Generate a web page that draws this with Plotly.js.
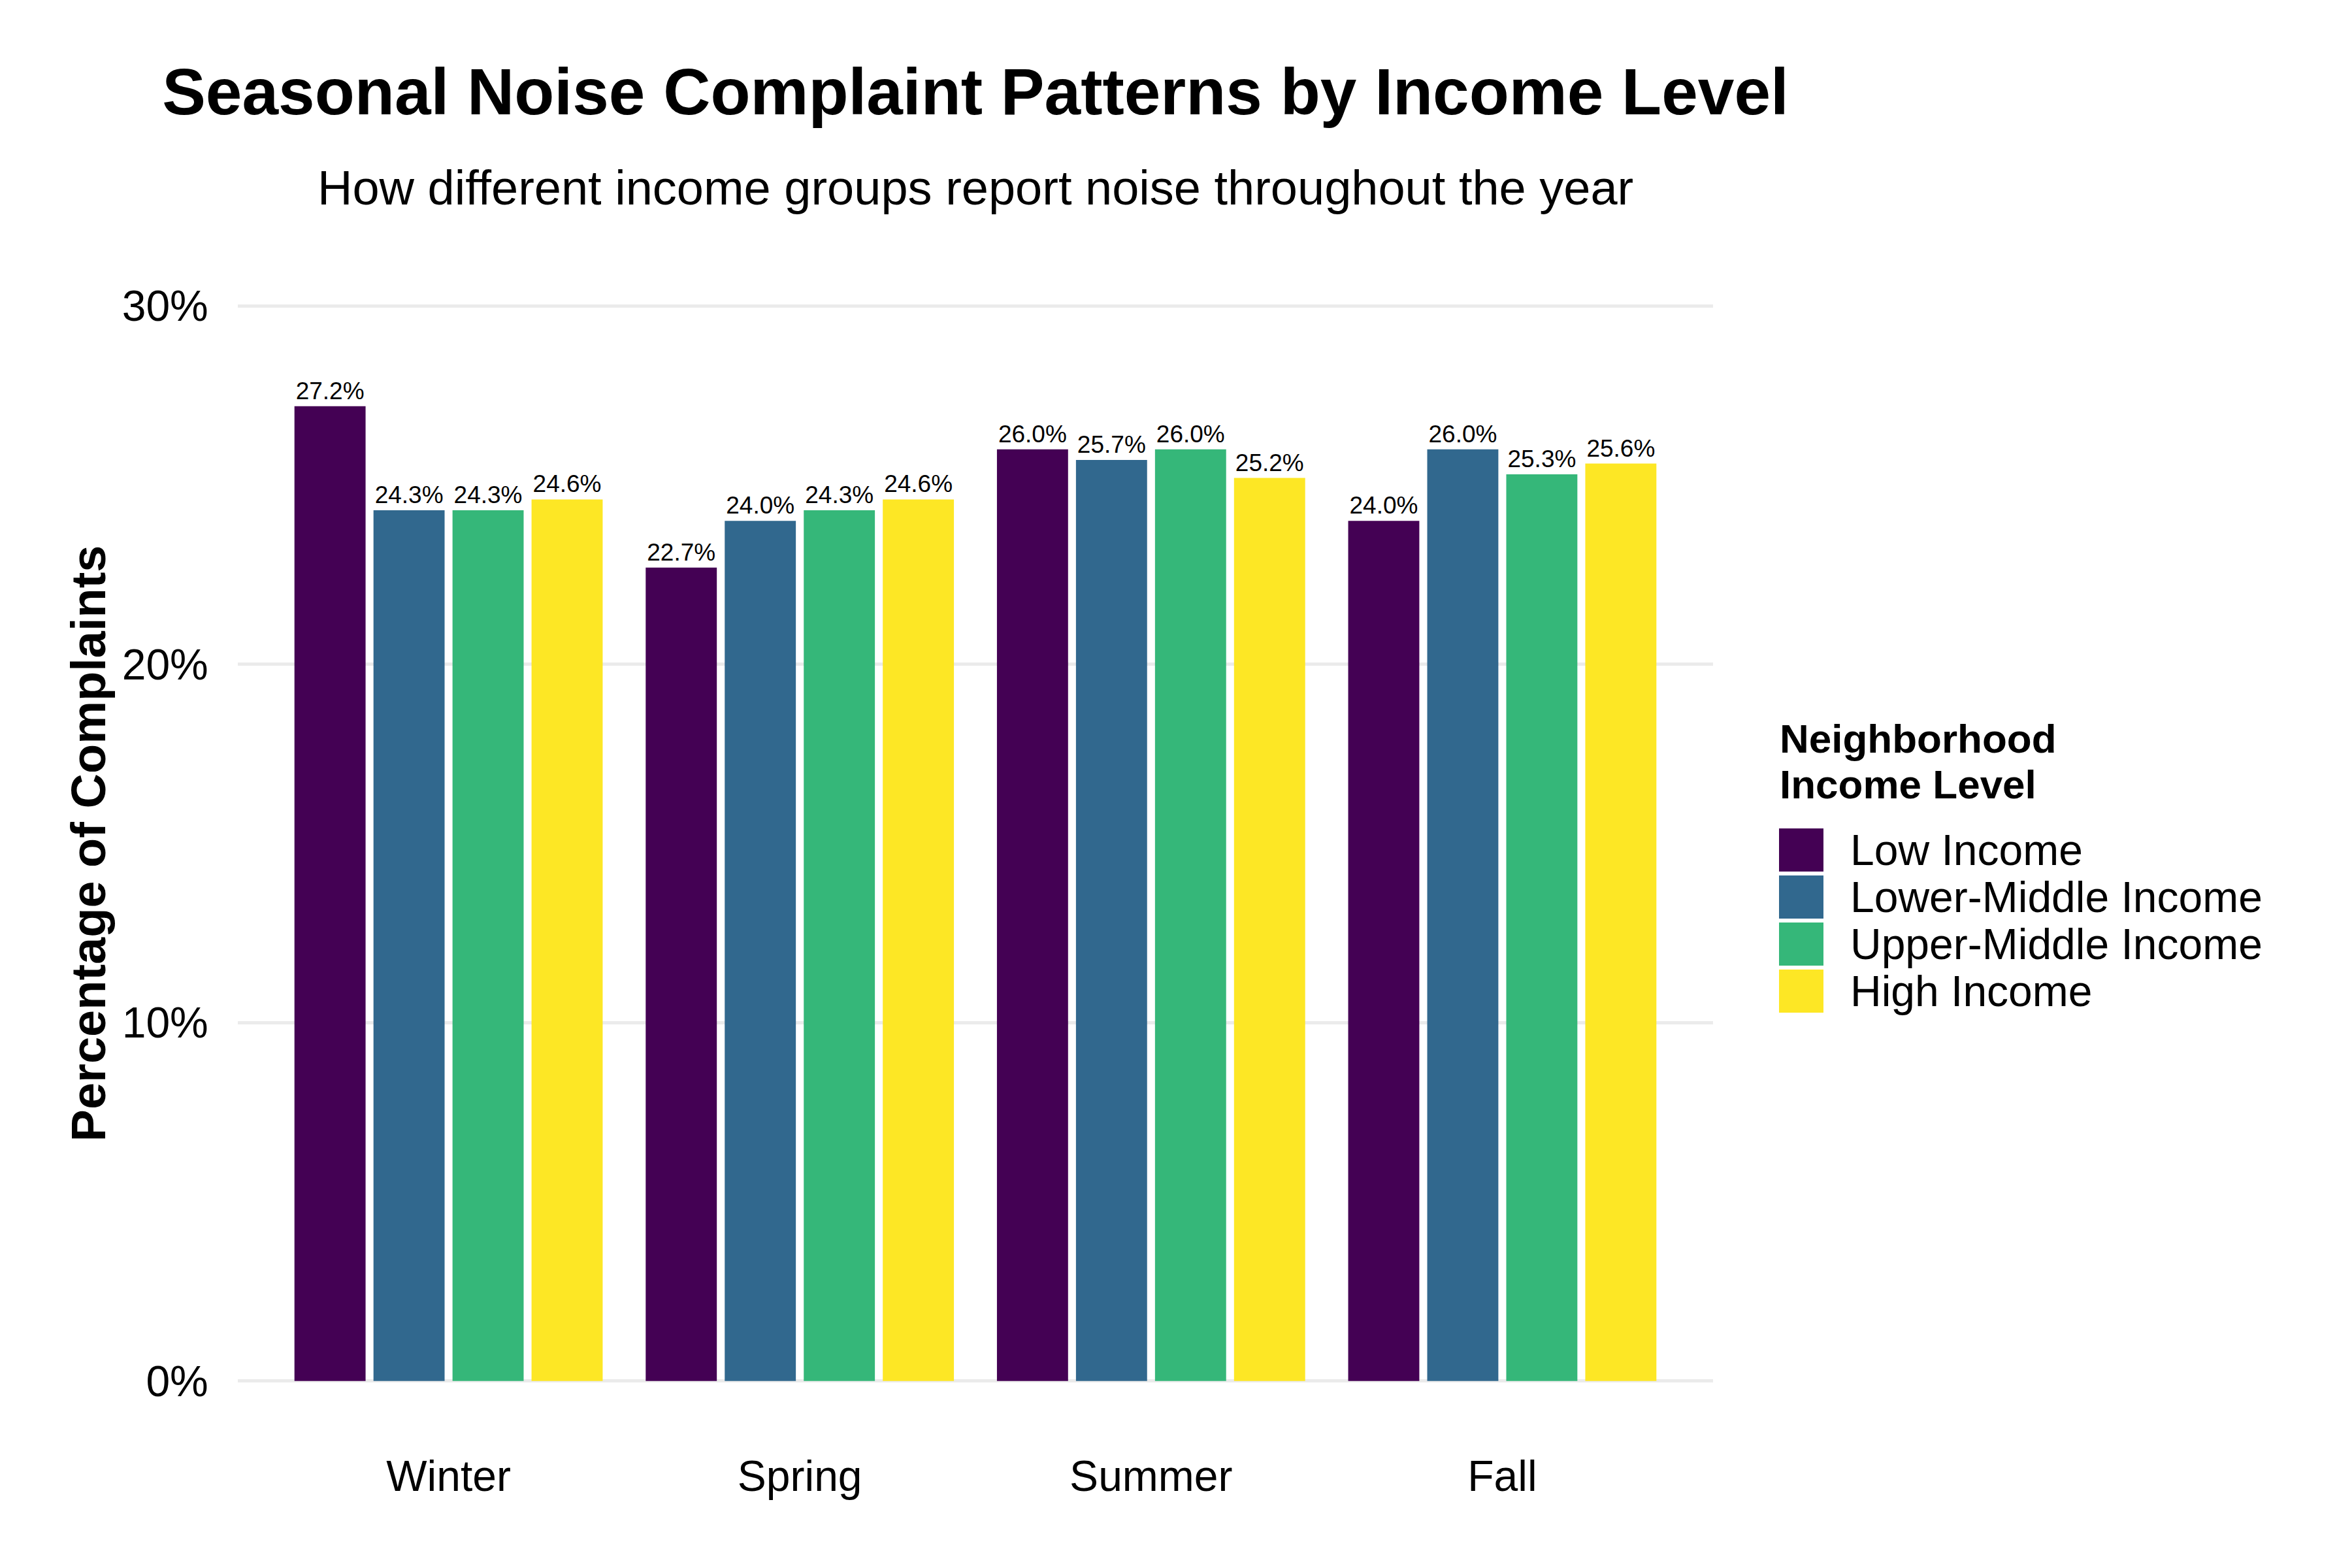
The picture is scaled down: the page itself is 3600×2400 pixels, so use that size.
<!DOCTYPE html>
<html>
<head>
<meta charset="utf-8">
<script src="https://cdn.plot.ly/plotly-3.0.1.min.js"></script>
<style>html,body{margin:0;padding:0;background:#fff;}#chart{width:3600px;height:2400px;}</style>
</head>
<body>
<div id="chart"></div>
<script>
// ---- data ----
const seasons = ["Winter", "Spring", "Summer", "Fall"];
const incomeLevels = ["Low Income", "Lower-Middle Income", "Upper-Middle Income", "High Income"];
const lowIncome = [27.2, 22.7, 26.0, 24.0];
const lowerMiddleIncome = [24.3, 24.0, 25.7, 26.0];
const upperMiddleIncome = [24.3, 24.3, 26.0, 25.3];
const highIncome = [24.6, 24.6, 25.2, 25.6];
const yTickValues = [0, 10, 20, 30];
const yTickLabels = ["0%", "10%", "20%", "30%"];
const colors = ["#440154", "#31688E", "#35B779", "#FDE725"];

const seriesValues = [lowIncome, lowerMiddleIncome, upperMiddleIncome, highIncome];
const FONT = "Liberation Sans, Arial, Helvetica, sans-serif";

// ---- panel geometry (pixels) ----
const W = 3600, H = 2400;
const L = 364, R = 2622, T = 386, B = 2196;
const px2x = p => (p - L) / (R - L);
const py2y = p => (B - p) / (B - T);

const traces = incomeLevels.map((name, i) => ({
  type: "bar",
  name: name,
  x: seasons,
  y: seriesValues[i],
  marker: { color: colors[i], line: { width: 0 } },
  text: seriesValues[i].map(v => v.toFixed(1) + "%"),
  textposition: "outside",
  textfont: { family: FONT, size: 37, color: "#000000" },
  constraintext: "none",
  cliponaxis: false,
  showlegend: false,
  hoverinfo: "x+y+name"
}));

const annotations = [];
const shapes = [];

// subtitle
annotations.push({
  text: "How different income groups report noise throughout the year",
  xref: "paper", yref: "paper", x: 0.5, y: py2y(288),
  xanchor: "center", yanchor: "middle", showarrow: false,
  font: { family: FONT, size: 74, color: "#000000" }
});

// legend title (two lines)
annotations.push({
  text: "<b>Neighborhood</b>", xref: "paper", yref: "paper",
  x: px2x(2722), y: py2y(1130), xanchor: "left", yanchor: "middle", showarrow: false,
  font: { family: FONT, size: 62, color: "#000000" }
});
annotations.push({
  text: "<b>Income Level</b>", xref: "paper", yref: "paper",
  x: px2x(2722), y: py2y(1200), xanchor: "left", yanchor: "middle", showarrow: false,
  font: { family: FONT, size: 62, color: "#000000" }
});

// legend items
incomeLevels.forEach((name, i) => {
  const top = 1268 + 72 * i, bot = top + 66;
  shapes.push({
    type: "rect", xref: "paper", yref: "paper",
    x0: px2x(2723), x1: px2x(2791), y0: py2y(bot), y1: py2y(top),
    fillcolor: colors[i], line: { width: 0 }
  });
  annotations.push({
    text: name, xref: "paper", yref: "paper",
    x: px2x(2830), y: py2y((top + bot) / 2), xanchor: "left", yanchor: "middle", showarrow: false,
    font: { family: FONT, size: 66, color: "#000000" }
  });
});

const layout = {
  width: W, height: H,
  paper_bgcolor: "#ffffff", plot_bgcolor: "#ffffff",
  font: { family: FONT, color: "#000000" },
  margin: { l: L, r: W - R, t: T, b: H - B, pad: 0, autoexpand: false },
  title: {
    text: "<b>Seasonal Noise Complaint Patterns by Income Level</b>",
    font: { family: FONT, size: 100, color: "#000000" },
    xref: "paper", x: 0.5, xanchor: "center",
    yref: "container", y: 1 - 140 / H, yanchor: "middle"
  },
  barmode: "group",
  bargap: 0.1,
  bargroupgap: 0.1,
  xaxis: {
    type: "category",
    range: [-0.6, 3.6],
    showgrid: false, zeroline: false, showline: false,
    ticks: "outside", ticklen: 6, tickcolor: "rgba(0,0,0,0)",
    tickfont: { family: FONT, size: 66, color: "#000000" },
    automargin: false
  },
  yaxis: {
    range: [-1.5, 31.5],
    tickvals: yTickValues, ticktext: yTickLabels,
    showgrid: true, gridcolor: "#EBEBEB", gridwidth: 5,
    zeroline: false, showline: false,
    ticks: "outside", ticklen: 31, tickcolor: "rgba(0,0,0,0)",
    tickfont: { family: FONT, size: 66, color: "#000000" },
    title: {
      text: "<b>Percentage of Complaints</b>",
      font: { family: FONT, size: 74, color: "#000000" },
      standoff: 0
    },
    automargin: false
  },
  annotations: annotations,
  shapes: shapes,
  showlegend: false
};

Plotly.newPlot("chart", traces, layout, { displayModeBar: false, staticPlot: true });
</script>
</body>
</html>
